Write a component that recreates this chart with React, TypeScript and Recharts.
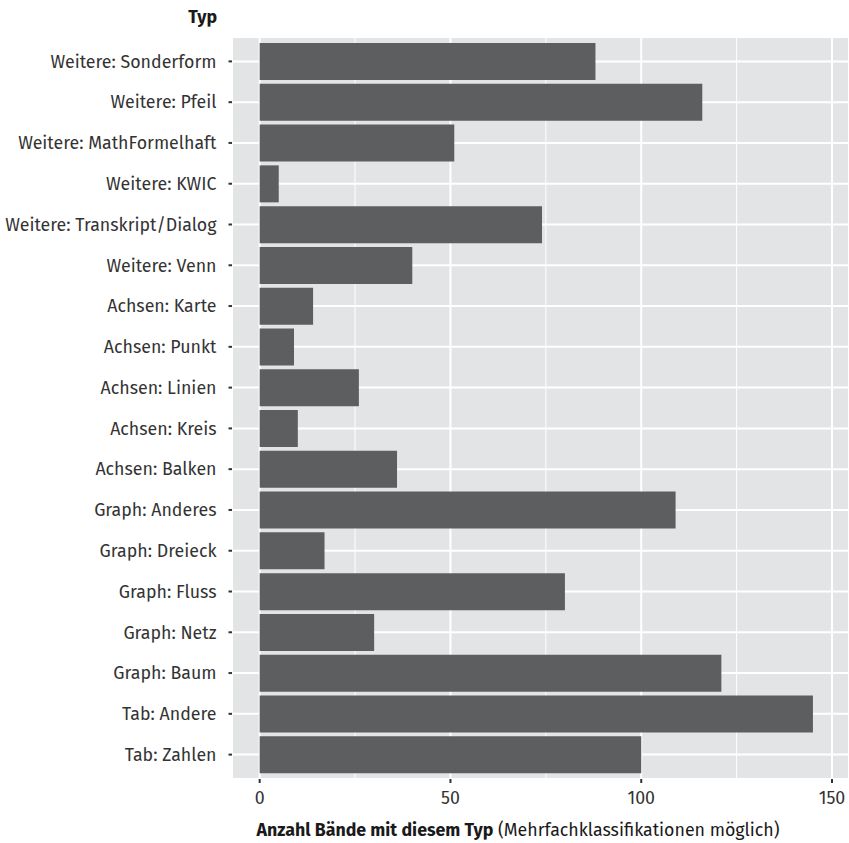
import React from 'react';
import { BarChart, Bar, XAxis, YAxis, CartesianGrid, ReferenceLine } from 'recharts';

// Kategorien von oben nach unten
const categories = [
  'Weitere: Sonderform',
  'Weitere: Pfeil',
  'Weitere: MathFormelhaft',
  'Weitere: KWIC',
  'Weitere: Transkript/Dialog',
  'Weitere: Venn',
  'Achsen: Karte',
  'Achsen: Punkt',
  'Achsen: Linien',
  'Achsen: Kreis',
  'Achsen: Balken',
  'Graph: Anderes',
  'Graph: Dreieck',
  'Graph: Fluss',
  'Graph: Netz',
  'Graph: Baum',
  'Tab: Andere',
  'Tab: Zahlen',
];

const counts = [88, 116, 51, 5, 74, 40, 14, 9, 26, 10, 36, 109, 17, 80, 30, 121, 145, 100];

const xTicks = [0, 50, 100, 150];
const xMinorTicks = [25, 75, 125];
const xDomain = [-7.25, 154.45];

const data = categories.map((typ, i) => ({ typ, anzahl: counts[i] }));

const FONT = '"Fira Sans", "Noto Sans", sans-serif';
const TEXT = '#333333';
const FS = 17.8;

const XTitle = () => (
  <text x={518} y={836} textAnchor="middle" fontFamily={FONT} fontSize={FS} fill="#1a1a1a">
    <tspan fontWeight="bold">Anzahl Bände mit diesem Typ</tspan>
    <tspan> (Mehrfachklassifikationen möglich)</tspan>
  </text>
);

const YTitle = () => (
  <text x={217} y={23} textAnchor="end" fontFamily={FONT} fontSize={FS} fontWeight="bold" fill="#1a1a1a">
    Typ
  </text>
);

const App: React.FC = () => {
  return (
    <div style={{ position: 'absolute', left: 0, top: 0, background: '#fff' }}>
      <BarChart
        width={849}
        height={843}
        data={data}
        layout="vertical"
        margin={{ top: 37, right: 0, bottom: 34, left: 0 }}
        barCategoryGap="5%"
      >
        <CartesianGrid
          fill="#E3E4E6"
          stroke="#ffffff"
          strokeWidth={2}
          vertical={true}
          horizontal={true}
        />
        {xMinorTicks.map((v) => (
          <ReferenceLine key={v} x={v} stroke="#ffffff" strokeWidth={1} zIndex={-50} />
        ))}
        <XAxis
          type="number"
          dataKey="anzahl"
          domain={xDomain}
          ticks={xTicks}
          height={30}
          axisLine={false}
          tickSize={4}
          tickMargin={8}
          tickLine={{ stroke: TEXT, strokeWidth: 2 }}
          tick={{ fill: TEXT, fontSize: FS, fontFamily: FONT }}
          interval={0}
          label={<XTitle />}
        />
        <YAxis
          type="category"
          dataKey="typ"
          width={232}
          padding={{ top: 4, bottom: 4 }}
          axisLine={false}
          tickSize={3.5}
          tickMargin={12}
          tickLine={{ stroke: TEXT, strokeWidth: 2 }}
          tick={{ fill: TEXT, fontSize: FS, fontFamily: FONT }}
          interval={0}
          label={<YTitle />}
        />
        <Bar dataKey="anzahl" fill="#5D5E60" isAnimationActive={false} />
      </BarChart>
    </div>
  );
};

export default App;
